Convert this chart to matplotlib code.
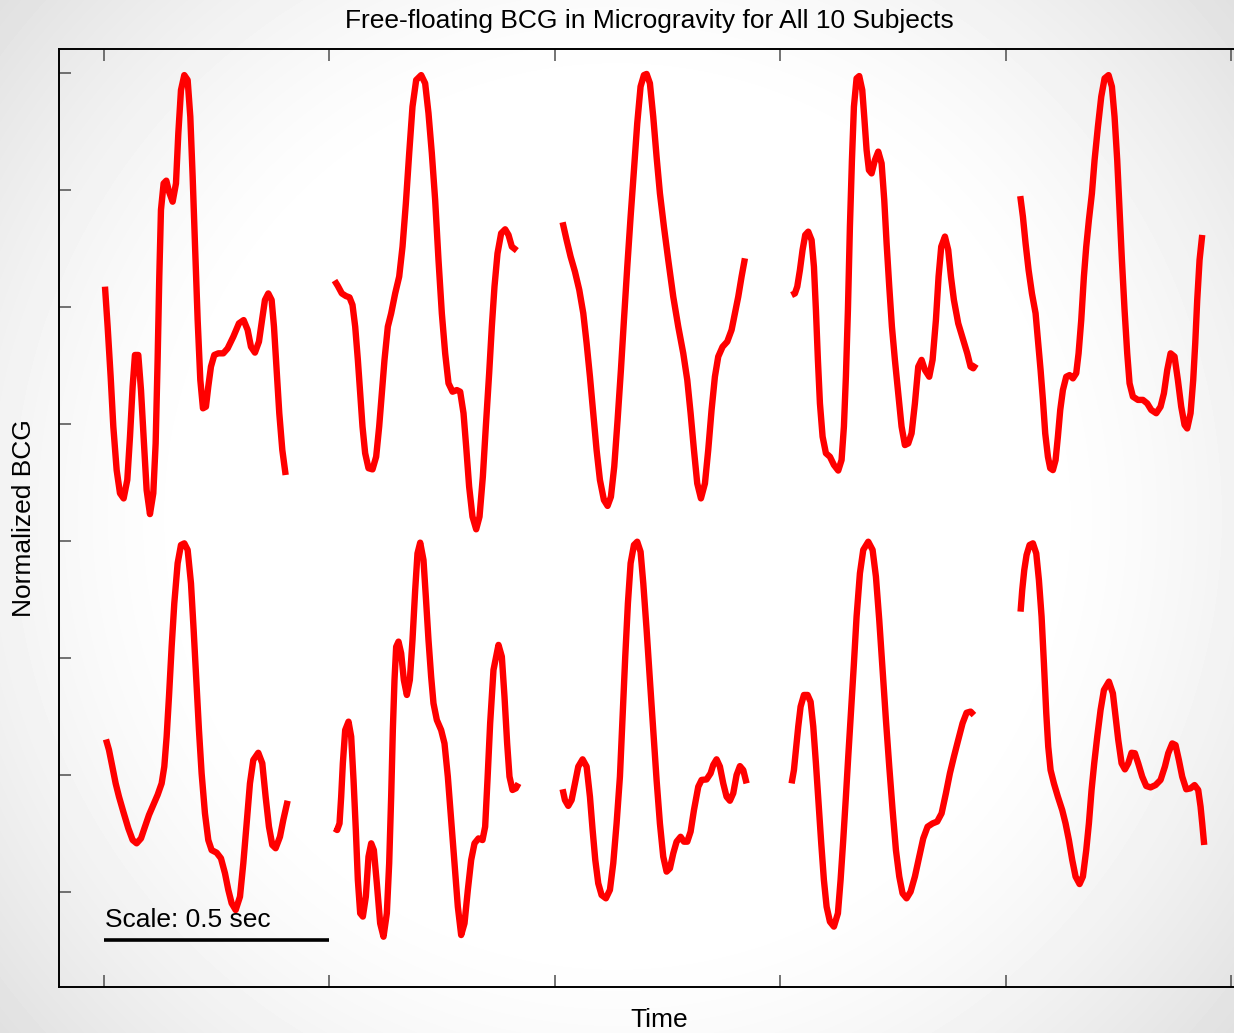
import numpy as np
import matplotlib
matplotlib.use("Agg")
import matplotlib.pyplot as plt

plt.rcParams['font.family'] = ['Liberation Sans', 'DejaVu Sans']

# one averaged beat per subject: time from segment start (s), normalized BCG
s1_t = [0.000, 0.0059, 0.0126, 0.0185, 0.0259, 0.0333, 0.0414, 0.0495, 0.0555, 0.0614,
        0.0665, 0.0739, 0.0799, 0.0865, 0.0924, 0.0998, 0.1072, 0.1124, 0.1168, 0.1205,
        0.1242, 0.1301, 0.1361, 0.1420, 0.1501, 0.1575, 0.1627, 0.1686, 0.1760, 0.1834,
        0.1893, 0.1945, 0.1996, 0.2056, 0.2115, 0.2174, 0.2240, 0.2292, 0.2351, 0.2425,
        0.2514, 0.2625, 0.2721, 0.2847, 0.2972, 0.3076, 0.3165, 0.3239, 0.3327, 0.3416,
        0.3490, 0.3549, 0.3623, 0.3697, 0.3749, 0.3808, 0.3867, 0.3934, 0.4008]
s1_v = [0.087, -0.084, -0.298, -0.511, -0.697, -0.796, -0.818, -0.739, -0.554, -0.340,
        -0.205, -0.205, -0.355, -0.583, -0.782, -0.885, -0.796, -0.583, -0.226, 0.130,
        0.415, 0.528, 0.540, 0.493, 0.450, 0.528, 0.742, 0.927, 0.991, 0.970,
        0.813, 0.557, 0.272, -0.056, -0.312, -0.433, -0.426, -0.340, -0.255, -0.205,
        -0.198, -0.198, -0.177, -0.127, -0.070, -0.056, -0.098, -0.170, -0.195, -0.148,
        -0.048, 0.030, 0.058, 0.030, -0.084, -0.269, -0.454, -0.611, -0.718]

s2_t = [0.0022, 0.0096, 0.0185, 0.0274, 0.0355, 0.0421, 0.0481, 0.0540, 0.0592, 0.0643,
        0.0702, 0.0776, 0.0865, 0.0946, 0.1013, 0.1072, 0.1131, 0.1205, 0.1279, 0.1368,
        0.1457, 0.1531, 0.1605, 0.1679, 0.1752, 0.1834, 0.1945, 0.2033, 0.2107, 0.2181,
        0.2255, 0.2329, 0.2403, 0.2477, 0.2551, 0.2640, 0.2736, 0.2810, 0.2884, 0.2943,
        0.3009, 0.3083, 0.3165, 0.3239, 0.3313, 0.3379, 0.3453, 0.3512, 0.3571, 0.3638,
        0.3719, 0.3808, 0.3882, 0.3956, 0.4067]
s2_v = [0.113, 0.090, 0.058, 0.047, 0.041, 0.009, -0.084, -0.226, -0.369, -0.511,
        -0.625, -0.689, -0.694, -0.640, -0.511, -0.369, -0.226, -0.084, -0.027, 0.058,
        0.130, 0.258, 0.443, 0.657, 0.856, 0.970, 0.991, 0.956, 0.828, 0.657,
        0.457, 0.201, -0.027, -0.198, -0.326, -0.362, -0.355, -0.362, -0.454, -0.597,
        -0.768, -0.896, -0.950, -0.896, -0.725, -0.511, -0.283, -0.084, 0.087, 0.229,
        0.315, 0.332, 0.308, 0.258, 0.241]

s3_t = [0.0022, 0.0111, 0.0200, 0.0296, 0.0392, 0.0481, 0.0555, 0.0629, 0.0702, 0.0776,
        0.0850, 0.0939, 0.1020, 0.1094, 0.1168, 0.1242, 0.1316, 0.1383, 0.1457, 0.1531,
        0.1605, 0.1678, 0.1752, 0.1826, 0.1886, 0.1959, 0.2033, 0.2107, 0.2181, 0.2270,
        0.2366, 0.2477, 0.2588, 0.2699, 0.2788, 0.2862, 0.2936, 0.3009, 0.3091, 0.3180,
        0.3253, 0.3327, 0.3401, 0.3475, 0.3571, 0.3675, 0.3771, 0.3845, 0.3919, 0.3993,
        0.4067]
s3_v = [0.362, 0.286, 0.215, 0.151, 0.073, -0.027, -0.155, -0.298, -0.454, -0.611,
        -0.739, -0.825, -0.850, -0.811, -0.682, -0.483, -0.269, -0.056, 0.172, 0.386,
        0.585, 0.785, 0.942, 0.991, 0.996, 0.956, 0.813, 0.642, 0.486, 0.343,
        0.201, 0.044, -0.084, -0.198, -0.312, -0.454, -0.611, -0.754, -0.818, -0.754,
        -0.611, -0.440, -0.298, -0.212, -0.170, -0.148, -0.098, -0.027, 0.044, 0.130,
        0.208]

s4_t = [0.0022, 0.0096, 0.0148, 0.0207, 0.0266, 0.0325, 0.0392, 0.0466, 0.0518, 0.0562,
        0.0606, 0.0651, 0.0710, 0.0784, 0.0873, 0.0961, 0.1057, 0.1131, 0.1183, 0.1227,
        0.1272, 0.1316, 0.1361, 0.1405, 0.1464, 0.1523, 0.1590, 0.1634, 0.1686, 0.1738,
        0.1797, 0.1871, 0.1945, 0.2019, 0.2078, 0.2130, 0.2189, 0.2248, 0.2314, 0.2388,
        0.2462, 0.2536, 0.2610, 0.2684, 0.2758, 0.2832, 0.2906, 0.2980, 0.3076, 0.3150,
        0.3224, 0.3283, 0.3342, 0.3424, 0.3497, 0.3557, 0.3623, 0.3719, 0.3830, 0.3919,
        0.3993, 0.4052, 0.4111]
s4_v = [0.051, 0.058, 0.087, 0.158, 0.244, 0.308, 0.322, 0.286, 0.172, -0.013,
        -0.226, -0.412, -0.554, -0.625, -0.640, -0.675, -0.699, -0.654, -0.511, -0.298,
        -0.013, 0.343, 0.628, 0.856, 0.977, 0.987, 0.927, 0.813, 0.671, 0.585,
        0.571, 0.628, 0.664, 0.614, 0.457, 0.272, 0.087, -0.084, -0.226, -0.369,
        -0.511, -0.590, -0.583, -0.540, -0.412, -0.255, -0.226, -0.269, -0.298, -0.226,
        -0.056, 0.130, 0.258, 0.301, 0.244, 0.130, 0.030, -0.070, -0.141, -0.198,
        -0.255, -0.262, -0.244]

s5_t = [0.0015, 0.0074, 0.0133, 0.0200, 0.0274, 0.0355, 0.0407, 0.0466, 0.0518, 0.0569,
        0.0629, 0.0680, 0.0739, 0.0799, 0.0850, 0.0902, 0.0961, 0.1035, 0.1109, 0.1183,
        0.1257, 0.1309, 0.1368, 0.1427, 0.1479, 0.1538, 0.1605, 0.1664, 0.1738, 0.1812,
        0.1886, 0.1974, 0.2048, 0.2107, 0.2166, 0.2218, 0.2270, 0.2329, 0.2388, 0.2440,
        0.2514, 0.2625, 0.2736, 0.2832, 0.2921, 0.3032, 0.3128, 0.3202, 0.3276, 0.3350,
        0.3438, 0.3512, 0.3586, 0.3660, 0.3719, 0.3793, 0.3852, 0.3897, 0.3941, 0.3993,
        0.4052]
s5_v = [0.474, 0.386, 0.272, 0.158, 0.058, -0.027, -0.141, -0.269, -0.397, -0.540,
        -0.640, -0.689, -0.697, -0.654, -0.554, -0.440, -0.355, -0.298, -0.291, -0.305,
        -0.283, -0.198, -0.056, 0.130, 0.258, 0.372, 0.486, 0.628, 0.771, 0.899,
        0.977, 0.991, 0.942, 0.813, 0.628, 0.415, 0.201, -0.013, -0.198, -0.326,
        -0.383, -0.397, -0.397, -0.412, -0.440, -0.454, -0.426, -0.369, -0.269, -0.198,
        -0.212, -0.312, -0.426, -0.504, -0.519, -0.454, -0.312, -0.155, 0.030, 0.201,
        0.308]

s6_t = [0.0022, 0.0089, 0.0163, 0.0237, 0.0311, 0.0407, 0.0518, 0.0614, 0.0702, 0.0799,
        0.0887, 0.0976, 0.1072, 0.1168, 0.1257, 0.1316, 0.1368, 0.1420, 0.1479, 0.1538,
        0.1612, 0.1686, 0.1760, 0.1834, 0.1908, 0.1967, 0.2026, 0.2085, 0.2144, 0.2218,
        0.2292, 0.2366, 0.2477, 0.2573, 0.2662, 0.2736, 0.2810, 0.2899, 0.2995, 0.3069,
        0.3143, 0.3216, 0.3290, 0.3401, 0.3490, 0.3564, 0.3638, 0.3712, 0.3786, 0.3882,
        0.3956, 0.4052]
s6_v = [0.152, 0.107, 0.036, -0.036, -0.093, -0.157, -0.228, -0.278, -0.292, -0.271,
        -0.221, -0.171, -0.128, -0.085, -0.036, 0.036, 0.164, 0.335, 0.548, 0.734,
        0.905, 0.983, 0.990, 0.962, 0.819, 0.620, 0.406, 0.192, 0.007, -0.164,
        -0.278, -0.321, -0.332, -0.356, -0.420, -0.491, -0.548, -0.577, -0.520, -0.377,
        -0.207, -0.036, 0.064, 0.095, 0.050, -0.093, -0.221, -0.299, -0.313, -0.264,
        -0.192, -0.110]

s7_t = [0.0022, 0.0081, 0.0133, 0.0170, 0.0207, 0.0259, 0.0333, 0.0392, 0.0444, 0.0495,
        0.0540, 0.0592, 0.0651, 0.0717, 0.0776, 0.0836, 0.0895, 0.0961, 0.1035, 0.1109,
        0.1183, 0.1235, 0.1279, 0.1316, 0.1353, 0.1390, 0.1442, 0.1501, 0.1560, 0.1627,
        0.1693, 0.1752, 0.1812, 0.1863, 0.1923, 0.1996, 0.2048, 0.2107, 0.2166, 0.2218,
        0.2292, 0.2388, 0.2462, 0.2536, 0.2610, 0.2684, 0.2758, 0.2832, 0.2906, 0.2980,
        0.3054, 0.3128, 0.3216, 0.3305, 0.3364, 0.3416, 0.3475, 0.3549, 0.3660, 0.3734,
        0.3793, 0.3852, 0.3904, 0.3971, 0.4045, 0.4104]
s7_v = [-0.228, -0.235, -0.207, -0.093, 0.050, 0.192, 0.228, 0.164, -0.021, -0.235,
        -0.449, -0.591, -0.605, -0.520, -0.349, -0.292, -0.321, -0.463, -0.634, -0.691,
        -0.591, -0.377, -0.093, 0.192, 0.406, 0.548, 0.570, 0.520, 0.406, 0.342,
        0.406, 0.577, 0.791, 0.947, 0.993, 0.919, 0.762, 0.577, 0.420, 0.306,
        0.235, 0.192, 0.135, -0.007, -0.192, -0.377, -0.563, -0.684, -0.634, -0.491,
        -0.363, -0.292, -0.271, -0.278, -0.221, -0.021, 0.221, 0.449, 0.556, 0.506,
        0.335, 0.135, -0.007, -0.064, -0.057, -0.036]

s8_t = [0.0022, 0.0074, 0.0148, 0.0222, 0.0296, 0.0370, 0.0466, 0.0555, 0.0629, 0.0688,
        0.0747, 0.0813, 0.0887, 0.0983, 0.1072, 0.1146, 0.1220, 0.1294, 0.1353, 0.1412,
        0.1471, 0.1531, 0.1605, 0.1678, 0.1752, 0.1812, 0.1886, 0.1959, 0.2033, 0.2107,
        0.2181, 0.2255, 0.2329, 0.2403, 0.2477, 0.2551, 0.2640, 0.2714, 0.2788, 0.2862,
        0.2936, 0.3032, 0.3106, 0.3216, 0.3305, 0.3364, 0.3438, 0.3512, 0.3586, 0.3660,
        0.3734, 0.3808, 0.3882, 0.3956, 0.4030, 0.4104]
s8_v = [-0.061, -0.107, -0.132, -0.107, -0.036, 0.036, 0.067, 0.036, -0.093, -0.235,
        -0.363, -0.463, -0.513, -0.527, -0.491, -0.377, -0.207, -0.007, 0.249, 0.506,
        0.734, 0.905, 0.983, 0.997, 0.954, 0.819, 0.620, 0.406, 0.192, -0.021,
        -0.207, -0.349, -0.413, -0.399, -0.335, -0.285, -0.264, -0.285, -0.285, -0.242,
        -0.150, -0.050, -0.021, -0.019, 0.007, 0.043, 0.067, 0.036, -0.036, -0.093,
        -0.110, -0.078, 0.000, 0.038, 0.021, -0.036]

s9_t = [0.0022, 0.0074, 0.0118, 0.0170, 0.0222, 0.0296, 0.0377, 0.0444, 0.0503, 0.0562,
        0.0621, 0.0680, 0.0739, 0.0799, 0.0873, 0.0961, 0.1050, 0.1109, 0.1168, 0.1227,
        0.1279, 0.1338, 0.1405, 0.1464, 0.1538, 0.1612, 0.1723, 0.1819, 0.1893, 0.1967,
        0.2041, 0.2115, 0.2189, 0.2263, 0.2337, 0.2411, 0.2484, 0.2573, 0.2662, 0.2758,
        0.2854, 0.2943, 0.3039, 0.3150, 0.3253, 0.3350, 0.3446, 0.3534, 0.3623, 0.3719,
        0.3815, 0.3904, 0.3993, 0.4067]
s9_v = [-0.036, 0.021, 0.107, 0.207, 0.292, 0.342, 0.342, 0.313, 0.207, 0.050,
        -0.121, -0.292, -0.449, -0.563, -0.627, -0.648, -0.591, -0.449, -0.278, -0.093,
        0.078, 0.264, 0.477, 0.677, 0.862, 0.962, 0.997, 0.962, 0.848, 0.662,
        0.449, 0.235, 0.036, -0.150, -0.321, -0.434, -0.506, -0.527, -0.499, -0.434,
        -0.349, -0.271, -0.221, -0.207, -0.199, -0.164, -0.078, 0.007, 0.078, 0.150,
        0.221, 0.266, 0.271, 0.256]

s10_t = [0.0022, 0.0059, 0.0104, 0.0155, 0.0222, 0.0296, 0.0370, 0.0429, 0.0488, 0.0540,
         0.0592, 0.0636, 0.0688, 0.0762, 0.0850, 0.0946, 0.1020, 0.1094, 0.1168, 0.1242,
         0.1331, 0.1405, 0.1479, 0.1538, 0.1597, 0.1656, 0.1723, 0.1797, 0.1871, 0.1982,
         0.2070, 0.2130, 0.2189, 0.2263, 0.2337, 0.2411, 0.2484, 0.2558, 0.2632, 0.2721,
         0.2810, 0.2906, 0.3017, 0.3128, 0.3224, 0.3298, 0.3387, 0.3460, 0.3534, 0.3608,
         0.3697, 0.3793, 0.3882, 0.3963, 0.4015, 0.4052, 0.4096]
s10_v = [0.698, 0.791, 0.876, 0.940, 0.983, 0.990, 0.947, 0.833, 0.677, 0.477,
         0.264, 0.121, 0.021, -0.036, -0.093, -0.150, -0.207, -0.278, -0.363, -0.434,
         -0.466, -0.434, -0.321, -0.207, -0.064, 0.050, 0.164, 0.278, 0.363, 0.399,
         0.349, 0.249, 0.150, 0.050, 0.024, 0.050, 0.095, 0.093, 0.050, -0.007,
         -0.047, -0.053, -0.043, -0.021, 0.036, 0.093, 0.135, 0.128, 0.064, -0.007,
         -0.061, -0.057, -0.043, -0.064, -0.135, -0.207, -0.299]

top_row = [(s1_t, s1_v), (s2_t, s2_v), (s3_t, s3_v), (s4_t, s4_v), (s5_t, s5_v)]
bottom_row = [(s6_t, s6_v), (s7_t, s7_v), (s8_t, s8_v), (s9_t, s9_v), (s10_t, s10_v)]

col_start = [0.002, 0.509, 1.015, 1.523, 2.031]   # s
row_offset = [0.0, -2.0]
scale_len = 0.5   # s

fig = plt.figure(figsize=(12.34, 10.33), dpi=100)

# soft grey vignette behind everything
bg = fig.add_axes([0, 0, 1, 1], zorder=-10)
yy, xx = np.mgrid[0:1033, 0:1234]
r = np.hypot(xx - 617, yy - 516)
shade = 1 - 0.12 * np.clip((r - 420) / (804 - 420), 0, 1) ** 1.4
bg.imshow(shade, cmap='gray', vmin=0, vmax=1, extent=[0, 1, 0, 1], aspect='auto')
bg.axis('off')

ax = fig.add_axes([0.04781, 0.04453, 0.95705, 0.90804])
ax.set_facecolor('none')

for row, beats in zip(row_offset, [top_row, bottom_row]):
    for x0, (t, v) in zip(col_start, beats):
        ax.plot(x0 + np.array(t), row + np.array(v), color='red', lw=4.6,
                solid_joinstyle='round', solid_capstyle='butt')

# scale bar
ax.plot([0, scale_len], [-2.705, -2.705], color='black', lw=2.6, solid_capstyle='butt')
ax.text(0.002, -2.648, 'Scale: 0.5 sec', fontsize=19, va='baseline', ha='left', zorder=5)

ax.set_xlim(-0.1, 2.52)
ax.set_ylim(-2.906, 1.1026)
ax.set_xticks(np.arange(0, 2.51, 0.5))
ax.set_yticks(np.arange(-2.5, 1.01, 0.5))
ax.set_xticklabels([])
ax.set_yticklabels([])
ax.tick_params(direction='in', length=8.6, width=1.1, color='0.3',
               top=True, right=False)
for sp in ax.spines.values():
    sp.set_linewidth(1.4)
    sp.set_color('black')

ax.set_title('Free-floating BCG in Microgravity for All 10 Subjects', fontsize=19, pad=15)
ax.set_xlabel('Time', fontsize=19)
ax.set_ylabel('Normalized BCG', fontsize=19)
ax.xaxis.set_label_coords(0.508, -0.0224)
ax.yaxis.set_label_coords(-0.0196, 0.5)

fig.savefig('out.png', dpi=100)
